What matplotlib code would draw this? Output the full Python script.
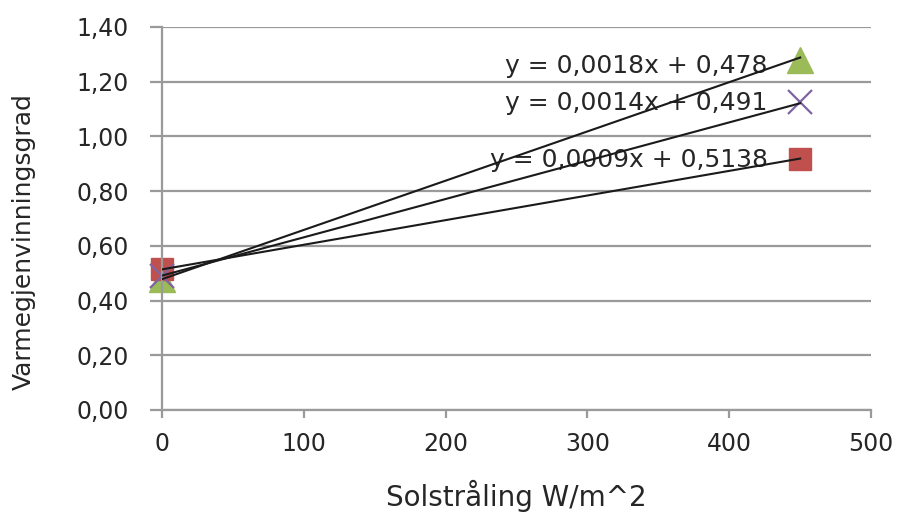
import numpy as np
import matplotlib
matplotlib.use("Agg")
import matplotlib.pyplot as plt

# measurements: solar radiation vs. heat recovery ratio
sol = [0, 450]
serie_gronn = [0.478, 1.28]
serie_rod = [0.5138, 0.917]
serie_lilla = [0.491, 1.125]

# trendline coefficients (slope, intercept)
trend_gronn = (0.0018, 0.478)
trend_lilla = (0.0014, 0.491)
trend_rod = (0.0009, 0.5138)

yticks = [0.0, 0.2, 0.4, 0.6, 0.8, 1.0, 1.2, 1.4]
xticks = [0, 100, 200, 300, 400, 500]

grid_col = "#9a9a9a"
txt_col = "#262626"

fig = plt.figure(figsize=(9.01, 5.17), dpi=100)
ax = fig.add_axes([0.1798, 0.207, 0.787, 0.741])

ax.plot(sol, serie_gronn, ls="none", marker="^", ms=19, color="#9BBB59", zorder=2, clip_on=False)
ax.plot(sol, serie_rod, ls="none", marker="s", ms=16, color="#C0504D", zorder=2, clip_on=False)
ax.plot(sol, serie_lilla, ls="none", marker="x", ms=17, mew=1.6, color="#8064A2", zorder=2, clip_on=False)

xs = np.array([0, 450])
for a, b in (trend_gronn, trend_lilla, trend_rod):
    ax.plot(xs, a * xs + b, color="#1a1a1a", lw=1.5, zorder=4)

def eq(a, b):
    return "y = {}x + {}".format(f"{a:.4f}".replace(".", ","), f"{b:g}".replace(".", ","))

ax.text(427, 1.257, eq(*trend_gronn), ha="right", va="center", fontsize=18, color=txt_col, zorder=3)
ax.text(427, 1.122, eq(*trend_lilla), ha="right", va="center", fontsize=18, color=txt_col, zorder=3)
ax.text(427, 0.914, eq(*trend_rod), ha="right", va="center", fontsize=18, color=txt_col, zorder=3)

ax.set_xlim(0, 500)
ax.set_ylim(0, 1.4)
ax.set_xticks(xticks)
ax.set_yticks(yticks)
ax.set_yticklabels([f"{v:.2f}".replace(".", ",") for v in yticks])
ax.grid(axis="y", color=grid_col, lw=1.6)
ax.set_axisbelow(True)

for s in ("top", "right"):
    ax.spines[s].set_visible(False)
for s in ("left", "bottom"):
    ax.spines[s].set_color(grid_col)
    ax.spines[s].set_linewidth(1.6)

ax.tick_params(axis="y", direction="out", length=9, width=1.6, color=grid_col,
               pad=15, labelsize=17, labelcolor=txt_col)
ax.tick_params(axis="x", direction="out", length=6, width=1.6, color=grid_col,
               pad=10, labelsize=17, labelcolor=txt_col)

ax.set_xlabel("Solstråling W/m^2", fontsize=20, color=txt_col)
ax.xaxis.set_label_coords(0.5, -0.183)
ax.set_ylabel("Varmegjenvinningsgrad", fontsize=18, color=txt_col)
ax.yaxis.set_label_coords(-0.178, 0.44)

fig.savefig("out.png", dpi=100)
